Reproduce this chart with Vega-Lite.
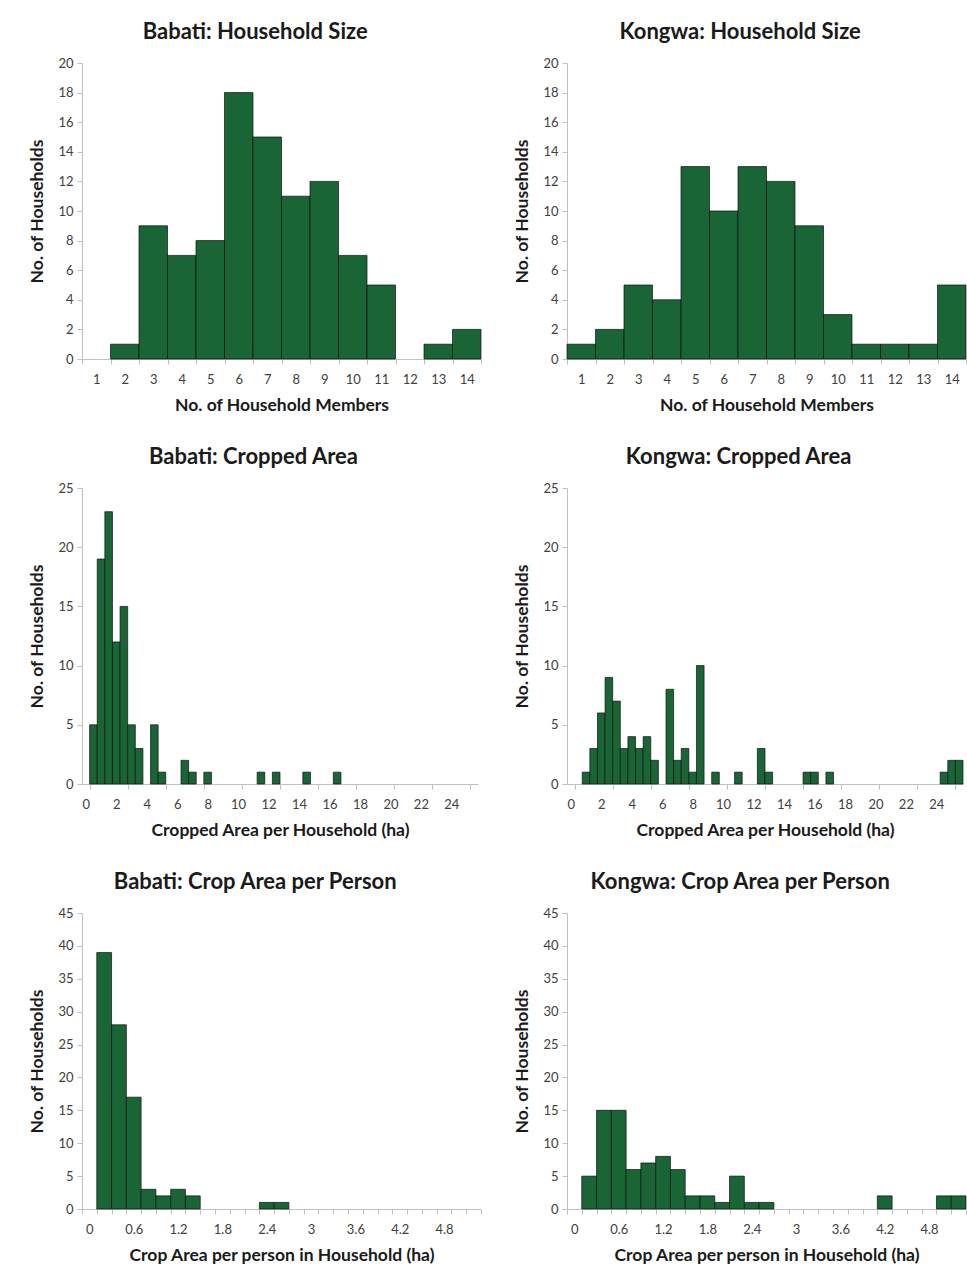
{
  "$schema": "https://vega.github.io/schema/vega-lite/v6.json",
  "padding": {"left": 28, "top": 21, "right": 0, "bottom": 0},
  "background": "white",
  "datasets": {
    "hh": [
      {"district": "Babati", "members": 2, "households": 1},
      {"district": "Babati", "members": 3, "households": 9},
      {"district": "Babati", "members": 4, "households": 7},
      {"district": "Babati", "members": 5, "households": 8},
      {"district": "Babati", "members": 6, "households": 18},
      {"district": "Babati", "members": 7, "households": 15},
      {"district": "Babati", "members": 8, "households": 11},
      {"district": "Babati", "members": 9, "households": 12},
      {"district": "Babati", "members": 10, "households": 7},
      {"district": "Babati", "members": 11, "households": 5},
      {"district": "Babati", "members": 13, "households": 1},
      {"district": "Babati", "members": 14, "households": 2},
      {"district": "Kongwa", "members": 1, "households": 1},
      {"district": "Kongwa", "members": 2, "households": 2},
      {"district": "Kongwa", "members": 3, "households": 5},
      {"district": "Kongwa", "members": 4, "households": 4},
      {"district": "Kongwa", "members": 5, "households": 13},
      {"district": "Kongwa", "members": 6, "households": 10},
      {"district": "Kongwa", "members": 7, "households": 13},
      {"district": "Kongwa", "members": 8, "households": 12},
      {"district": "Kongwa", "members": 9, "households": 9},
      {"district": "Kongwa", "members": 10, "households": 3},
      {"district": "Kongwa", "members": 11, "households": 1},
      {"district": "Kongwa", "members": 12, "households": 1},
      {"district": "Kongwa", "members": 13, "households": 1},
      {"district": "Kongwa", "members": 14, "households": 5}
    ],
    "area": [
      {"district": "Babati", "ha": 0.5, "households": 5},
      {"district": "Babati", "ha": 1, "households": 19},
      {"district": "Babati", "ha": 1.5, "households": 23},
      {"district": "Babati", "ha": 2, "households": 12},
      {"district": "Babati", "ha": 2.5, "households": 15},
      {"district": "Babati", "ha": 3, "households": 5},
      {"district": "Babati", "ha": 3.5, "households": 3},
      {"district": "Babati", "ha": 4.5, "households": 5},
      {"district": "Babati", "ha": 5, "households": 1},
      {"district": "Babati", "ha": 6.5, "households": 2},
      {"district": "Babati", "ha": 7, "households": 1},
      {"district": "Babati", "ha": 8, "households": 1},
      {"district": "Babati", "ha": 11.5, "households": 1},
      {"district": "Babati", "ha": 12.5, "households": 1},
      {"district": "Babati", "ha": 14.5, "households": 1},
      {"district": "Babati", "ha": 16.5, "households": 1},
      {"district": "Kongwa", "ha": 1, "households": 1},
      {"district": "Kongwa", "ha": 1.5, "households": 3},
      {"district": "Kongwa", "ha": 2, "households": 6},
      {"district": "Kongwa", "ha": 2.5, "households": 9},
      {"district": "Kongwa", "ha": 3, "households": 7},
      {"district": "Kongwa", "ha": 3.5, "households": 3},
      {"district": "Kongwa", "ha": 4, "households": 4},
      {"district": "Kongwa", "ha": 4.5, "households": 3},
      {"district": "Kongwa", "ha": 5, "households": 4},
      {"district": "Kongwa", "ha": 5.5, "households": 2},
      {"district": "Kongwa", "ha": 6.5, "households": 8},
      {"district": "Kongwa", "ha": 7, "households": 2},
      {"district": "Kongwa", "ha": 7.5, "households": 3},
      {"district": "Kongwa", "ha": 8, "households": 1},
      {"district": "Kongwa", "ha": 8.5, "households": 10},
      {"district": "Kongwa", "ha": 9.5, "households": 1},
      {"district": "Kongwa", "ha": 11, "households": 1},
      {"district": "Kongwa", "ha": 12.5, "households": 3},
      {"district": "Kongwa", "ha": 13, "households": 1},
      {"district": "Kongwa", "ha": 15.5, "households": 1},
      {"district": "Kongwa", "ha": 16, "households": 1},
      {"district": "Kongwa", "ha": 17, "households": 1},
      {"district": "Kongwa", "ha": 24.5, "households": 1},
      {"district": "Kongwa", "ha": 25, "households": 2},
      {"district": "Kongwa", "ha": 25.5, "households": 2}
    ],
    "perperson": [
      {"district": "Babati", "ha": 0.2, "households": 39},
      {"district": "Babati", "ha": 0.4, "households": 28},
      {"district": "Babati", "ha": 0.6, "households": 17},
      {"district": "Babati", "ha": 0.8, "households": 3},
      {"district": "Babati", "ha": 1, "households": 2},
      {"district": "Babati", "ha": 1.2, "households": 3},
      {"district": "Babati", "ha": 1.4, "households": 2},
      {"district": "Babati", "ha": 2.4, "households": 1},
      {"district": "Babati", "ha": 2.6, "households": 1},
      {"district": "Kongwa", "ha": 0.2, "households": 5},
      {"district": "Kongwa", "ha": 0.4, "households": 15},
      {"district": "Kongwa", "ha": 0.6, "households": 15},
      {"district": "Kongwa", "ha": 0.8, "households": 6},
      {"district": "Kongwa", "ha": 1, "households": 7},
      {"district": "Kongwa", "ha": 1.2, "households": 8},
      {"district": "Kongwa", "ha": 1.4, "households": 6},
      {"district": "Kongwa", "ha": 1.6, "households": 2},
      {"district": "Kongwa", "ha": 1.8, "households": 2},
      {"district": "Kongwa", "ha": 2, "households": 1},
      {"district": "Kongwa", "ha": 2.2, "households": 5},
      {"district": "Kongwa", "ha": 2.4, "households": 1},
      {"district": "Kongwa", "ha": 2.6, "households": 1},
      {"district": "Kongwa", "ha": 4.2, "households": 2},
      {"district": "Kongwa", "ha": 5, "households": 2},
      {"district": "Kongwa", "ha": 5.2, "households": 2}
    ]
  },
  "columns": 2,
  "spacing": {"row": 32, "column": 31},
  "concat": [
    {
      "data": {"name": "hh"},
      "transform": [{"filter": "datum.district == 'Babati'"}],
      "title": "Babati: Household Size",
      "width": 399, "height": 296,
      "mark": {"type": "bar"},
      "encoding": {
        "x": {"field": "members", "type": "ordinal",
          "scale": {"domain": [1,2,3,4,5,6,7,8,9,10,11,12,13,14], "paddingInner": 0, "paddingOuter": 0},
          "axis": {"title": "No. of Household Members", "labelAngle": 0, "tickBand": "extent"}},
        "y": {"field": "households", "type": "quantitative",
          "scale": {"domain": [0, 20], "nice": false},
          "axis": {"title": "No. of Households", "values": [0,2,4,6,8,10,12,14,16,18,20]}}
      }
    },
    {
      "data": {"name": "hh"},
      "transform": [{"filter": "datum.district == 'Kongwa'"}],
      "title": "Kongwa: Household Size",
      "width": 399, "height": 296,
      "mark": {"type": "bar"},
      "encoding": {
        "x": {"field": "members", "type": "ordinal",
          "scale": {"domain": [1,2,3,4,5,6,7,8,9,10,11,12,13,14], "paddingInner": 0, "paddingOuter": 0},
          "axis": {"title": "No. of Household Members", "labelAngle": 0, "tickBand": "extent"}},
        "y": {"field": "households", "type": "quantitative",
          "scale": {"domain": [0, 20], "nice": false},
          "axis": {"title": "No. of Households", "values": [0,2,4,6,8,10,12,14,16,18,20]}}
      }
    },
    {
      "data": {"name": "area"},
      "transform": [{"filter": "datum.district == 'Babati'"}],
      "title": "Babati: Cropped Area",
      "width": 396, "height": 296,
      "mark": {"type": "bar"},
      "encoding": {
        "x": {"field": "ha", "type": "ordinal",
          "scale": {"domain": [0,0.5,1,1.5,2,2.5,3,3.5,4,4.5,5,5.5,6,6.5,7,7.5,8,8.5,9,9.5,10,10.5,11,11.5,12,12.5,13,13.5,14,14.5,15,15.5,16,16.5,17,17.5,18,18.5,19,19.5,20,20.5,21,21.5,22,22.5,23,23.5,24,24.5,25,25.5], "paddingInner": 0, "paddingOuter": 0},
          "axis": {"title": "Cropped Area per Household (ha)", "labelAngle": 0, "tickBand": "extent",
            "labelExpr": "datum.value % 2 == 0 ? datum.label : ''",
            "tickOpacity": {"condition": {"test": "(datum.value * 2) % 5 == 0", "value": 1}, "value": 0}}},
        "y": {"field": "households", "type": "quantitative",
          "scale": {"domain": [0, 25], "nice": false},
          "axis": {"title": "No. of Households", "values": [0,5,10,15,20,25]}}
      }
    },
    {
      "data": {"name": "area"},
      "transform": [{"filter": "datum.district == 'Kongwa'"}],
      "title": "Kongwa: Cropped Area",
      "width": 396, "height": 296,
      "mark": {"type": "bar"},
      "encoding": {
        "x": {"field": "ha", "type": "ordinal",
          "scale": {"domain": [0,0.5,1,1.5,2,2.5,3,3.5,4,4.5,5,5.5,6,6.5,7,7.5,8,8.5,9,9.5,10,10.5,11,11.5,12,12.5,13,13.5,14,14.5,15,15.5,16,16.5,17,17.5,18,18.5,19,19.5,20,20.5,21,21.5,22,22.5,23,23.5,24,24.5,25,25.5], "paddingInner": 0, "paddingOuter": 0},
          "axis": {"title": "Cropped Area per Household (ha)", "labelAngle": 0, "tickBand": "extent",
            "labelExpr": "datum.value % 2 == 0 ? datum.label : ''",
            "tickOpacity": {"condition": {"test": "(datum.value * 2) % 5 == 0", "value": 1}, "value": 0}}},
        "y": {"field": "households", "type": "quantitative",
          "scale": {"domain": [0, 25], "nice": false},
          "axis": {"title": "No. of Households", "values": [0,5,10,15,20,25]}}
      }
    },
    {
      "data": {"name": "perperson"},
      "transform": [{"filter": "datum.district == 'Babati'"}],
      "title": "Babati: Crop Area per Person",
      "width": 399, "height": 296,
      "mark": {"type": "bar"},
      "encoding": {
        "x": {"field": "ha", "type": "ordinal",
          "scale": {"domain": [0,0.2,0.4,0.6,0.8,1,1.2,1.4,1.6,1.8,2,2.2,2.4,2.6,2.8,3,3.2,3.4,3.6,3.8,4,4.2,4.4,4.6,4.8,5,5.2], "paddingInner": 0, "paddingOuter": 0},
          "axis": {"title": "Crop Area per person in Household (ha)", "labelAngle": 0, "tickBand": "extent",
            "labelExpr": "round(datum.value * 10) % 6 == 0 ? datum.label : ''"}},
        "y": {"field": "households", "type": "quantitative",
          "scale": {"domain": [0, 45], "nice": false},
          "axis": {"title": "No. of Households", "values": [0,5,10,15,20,25,30,35,40,45]}}
      }
    },
    {
      "data": {"name": "perperson"},
      "transform": [{"filter": "datum.district == 'Kongwa'"}],
      "title": "Kongwa: Crop Area per Person",
      "width": 399, "height": 296,
      "mark": {"type": "bar"},
      "encoding": {
        "x": {"field": "ha", "type": "ordinal",
          "scale": {"domain": [0,0.2,0.4,0.6,0.8,1,1.2,1.4,1.6,1.8,2,2.2,2.4,2.6,2.8,3,3.2,3.4,3.6,3.8,4,4.2,4.4,4.6,4.8,5,5.2], "paddingInner": 0, "paddingOuter": 0},
          "axis": {"title": "Crop Area per person in Household (ha)", "labelAngle": 0, "tickBand": "extent",
            "labelExpr": "round(datum.value * 10) % 6 == 0 ? datum.label : ''"}},
        "y": {"field": "households", "type": "quantitative",
          "scale": {"domain": [0, 45], "nice": false},
          "axis": {"title": "No. of Households", "values": [0,5,10,15,20,25,30,35,40,45]}}
      }
    }
  ],
  "config": {
    "font": "Lato",
    "view": {"stroke": null},
    "bar": {"fill": "#1a6535", "stroke": "#111111", "strokeWidth": 0.7},
    "axis": {
      "grid": false,
      "domainColor": "#c0c0c0",
      "tickColor": "#c0c0c0",
      "tickSize": 5,
      "labelColor": "#404040",
      "labelFont": "Lato",
      "labelFontSize": 13,
      "titleFont": "Lato",
      "titleFontSize": 17.5,
      "titleFontWeight": "bold",
      "titleColor": "#1a1a1a"
    },
    "axisX": {"labelPadding": 9, "titlePadding": 10},
    "axisY": {"labelPadding": 4, "titlePadding": 11},
    "title": {"font": "Lato", "fontSize": 22, "fontWeight": "bold", "color": "#1a1a1a", "offset": 13, "frame": "bounds", "anchor": "middle"}
  }
}
